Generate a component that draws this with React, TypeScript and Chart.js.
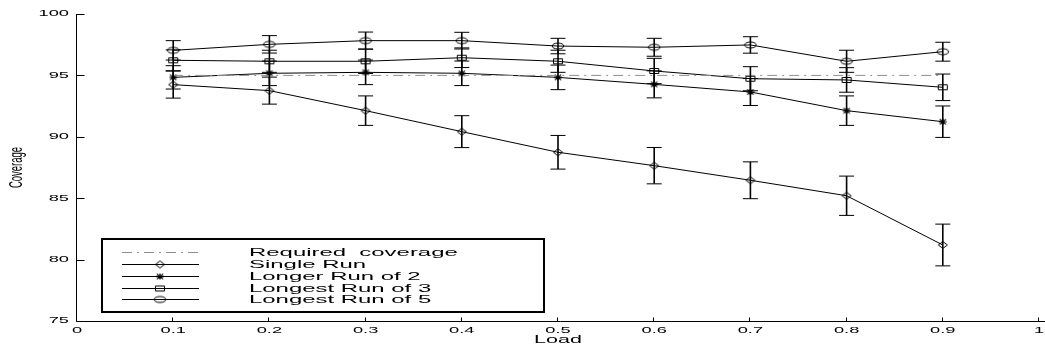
import { useEffect, useRef } from 'react';
import { Chart, registerables } from 'chart.js';

Chart.register(...registerables);

// ---- data ----
const loads = [0.1, 0.2, 0.3, 0.4, 0.5, 0.6, 0.7, 0.8, 0.9];
const requiredLoads = [0.1, 0.9];
const requiredCoverage = [95, 95];
const singleRun = [94.25, 93.76, 92.13, 90.42, 88.74, 87.65, 86.46, 85.2, 81.19];
const singleRunErr = [1.1, 1.1, 1.2, 1.3, 1.37, 1.48, 1.5, 1.6, 1.7];
const longerRun2 = [94.84, 95.17, 95.25, 95.17, 94.84, 94.27, 93.65, 92.13, 91.23];
const longerRun2Err = [0.95, 1.0, 1.0, 1.0, 1.0, 1.1, 1.1, 1.2, 1.28];
const longestRun3 = [96.23, 96.15, 96.15, 96.44, 96.15, 95.36, 94.73, 94.63, 94.03];
const longestRun3Err = [0.85, 0.9, 1.0, 0.8, 0.9, 1.03, 0.98, 1.0, 1.08];
const longestRun5 = [97.04, 97.53, 97.83, 97.83, 97.39, 97.29, 97.48, 96.15, 96.93];
const longestRun5Err = [0.79, 0.71, 0.7, 0.68, 0.63, 0.73, 0.67, 0.9, 0.77];
const seriesLabels = [
  'Required  coverage',
  'Single Run',
  'Longer Run of 2',
  'Longest Run of 3',
  'Longest Run of 5',
];
const xTickLabels = ['0', '0.1', '0.2', '0.3', '0.4', '0.5', '0.6', '0.7', '0.8', '0.9', '1'];
const yTickLabels = ['75', '80', '85', '90', '95', '100'];
const xAxisTitle = 'Load';
const yAxisTitle = 'Coverage';

// ---- styling helpers ----
const FONT = '"Liberation Sans", Arial, Helvetica, sans-serif';
const DASH = [10, 5, 2, 5];
const REQ_COLOR = '#8e8e8e';

function makeMarker(kind: string): HTMLCanvasElement {
  const c = document.createElement('canvas');
  c.width = 14;
  c.height = 10;
  const g = c.getContext('2d') as CanvasRenderingContext2D;
  g.strokeStyle = '#000';
  g.lineWidth = 1;
  const cx = 7;
  const cy = 5;
  g.beginPath();
  if (kind === 'diamond') {
    g.moveTo(cx - 4.5, cy);
    g.lineTo(cx, cy - 3.5);
    g.lineTo(cx + 4.5, cy);
    g.lineTo(cx, cy + 3.5);
    g.closePath();
  } else if (kind === 'square') {
    g.rect(2.5, 2.5, 9, 5);
  } else if (kind === 'circle') {
    g.ellipse(cx, cy, 5.8, 3, 0, 0, Math.PI * 2);
  } else if (kind === 'star') {
    g.lineWidth = 1.2;
    g.moveTo(3, cy);
    g.lineTo(11, cy);
    g.moveTo(cx, 2);
    g.lineTo(cx, 8);
    g.moveTo(3.8, 2.4);
    g.lineTo(10.2, 7.6);
    g.moveTo(3.8, 7.6);
    g.lineTo(10.2, 2.4);
  }
  g.stroke();
  return c;
}

function stretchedText(
  ctx: CanvasRenderingContext2D,
  text: string,
  x: number,
  y: number,
  size: number,
  sx: number,
  align: CanvasTextAlign,
) {
  ctx.save();
  ctx.translate(x, y);
  ctx.scale(sx, 1);
  ctx.font = `${size}px ${FONT}`;
  ctx.textAlign = align;
  ctx.textBaseline = 'middle';
  ctx.fillStyle = '#000';
  ctx.fillText(text, 0, 0);
  ctx.restore();
}

export default function App() {
  const ref = useRef<HTMLCanvasElement | null>(null);

  useEffect(() => {
    const canvas = ref.current;
    if (!canvas) return;

    const markers = {
      diamond: makeMarker('diamond'),
      star: makeMarker('star'),
      square: makeMarker('square'),
      circle: makeMarker('circle'),
    };

    const toXY = (ys: number[], xs: number[]) => xs.map((x, i) => ({ x, y: ys[i] }));

    const series = [
      { label: seriesLabels[1], values: singleRun, err: singleRunErr, marker: markers.diamond },
      { label: seriesLabels[2], values: longerRun2, err: longerRun2Err, marker: markers.star },
      { label: seriesLabels[3], values: longestRun3, err: longestRun3Err, marker: markers.square },
      { label: seriesLabels[4], values: longestRun5, err: longestRun5Err, marker: markers.circle },
    ];

    const datasets: any[] = [
      {
        label: seriesLabels[0],
        data: toXY(requiredCoverage, requiredLoads),
        borderColor: REQ_COLOR,
        borderWidth: 1,
        borderDash: DASH,
        pointRadius: 0,
        fill: false,
      },
      ...series.map((s) => ({
        label: s.label,
        data: toXY(s.values, loads),
        errorBars: s.err,
        borderColor: '#000',
        borderWidth: 1,
        pointStyle: s.marker,
        pointRadius: 5,
        pointBorderColor: '#000',
        pointBackgroundColor: 'rgba(0,0,0,0)',
        fill: false,
        tension: 0,
      })),
    ];

    const matlabPlugin = {
      id: 'matlabLook',
      beforeDatasetsDraw(chart: any) {
        const ctx: CanvasRenderingContext2D = chart.ctx;
        const ca = chart.chartArea;
        const xs = chart.scales.x;
        const ys = chart.scales.y;
        ctx.save();
        ctx.strokeStyle = '#000';
        ctx.lineWidth = 1;
        const left = Math.round(ca.left) - 0.5;
        const bottom = Math.round(ca.bottom) + 0.5;
        ctx.beginPath();
        ctx.moveTo(left, ca.top);
        ctx.lineTo(left, bottom);
        ctx.lineTo(chart.width, bottom);
        ctx.stroke();
        // y ticks (inward)
        ctx.beginPath();
        yTickLabels.forEach((t) => {
          const py = Math.round(ys.getPixelForValue(Number(t))) + 0.5;
          ctx.moveTo(left, py);
          ctx.lineTo(left + 8, py);
        });
        // x ticks (inward)
        xTickLabels.forEach((t) => {
          const px = Math.round(xs.getPixelForValue(Number(t))) - 0.5;
          ctx.moveTo(px, bottom);
          ctx.lineTo(px, bottom - 4);
        });
        ctx.stroke();
        ctx.restore();

        yTickLabels.forEach((t) => {
          stretchedText(ctx, t, ca.left - 8, ys.getPixelForValue(Number(t)), 8.5, 2.15, 'right');
        });
        xTickLabels.forEach((t) => {
          stretchedText(ctx, t, xs.getPixelForValue(Number(t)), ca.bottom + 9.5, 8.5, 2.15, 'center');
        });
        stretchedText(ctx, xAxisTitle, xs.getPixelForValue(0.5), ca.bottom + 19.5, 10.5, 2.05, 'center');

        ctx.save();
        ctx.translate(17, (ca.top + ca.bottom) / 2);
        ctx.rotate(-Math.PI / 2);
        ctx.scale(1, 1.9);
        ctx.font = `9.5px ${FONT}`;
        ctx.textAlign = 'center';
        ctx.textBaseline = 'middle';
        ctx.fillStyle = '#000';
        ctx.fillText(yAxisTitle, 0, 0);
        ctx.restore();
      },
      afterDatasetsDraw(chart: any) {
        const ctx: CanvasRenderingContext2D = chart.ctx;
        const xs = chart.scales.x;
        const ys = chart.scales.y;
        ctx.save();
        ctx.strokeStyle = '#000';
        chart.data.datasets.forEach((ds: any) => {
          if (!ds.errorBars) return;
          ds.data.forEach((p: any, i: number) => {
            const e = ds.errorBars[i];
            const px = xs.getPixelForValue(p.x);
            const pt = ys.getPixelForValue(p.y + e);
            const pb = ys.getPixelForValue(p.y - e);
            ctx.lineWidth = 1.6;
            ctx.beginPath();
            ctx.moveTo(px, pt);
            ctx.lineTo(px, pb);
            ctx.stroke();
            ctx.lineWidth = 1;
            ctx.beginPath();
            ctx.moveTo(px - 7.5, pt);
            ctx.lineTo(px + 7.5, pt);
            ctx.moveTo(px - 7.5, pb);
            ctx.lineTo(px + 7.5, pb);
            ctx.stroke();
          });
        });
        ctx.restore();

        // legend box
        const bx = 102;
        const by = 239;
        const bw = 442;
        const bh = 73;
        ctx.save();
        ctx.fillStyle = '#fff';
        ctx.fillRect(bx, by, bw, bh);
        ctx.strokeStyle = '#000';
        ctx.lineWidth = 2;
        ctx.strokeRect(bx, by, bw, bh);
        const rowY0 = 252;
        const rowStep = 11.85;
        seriesLabels.forEach((lab, i) => {
          const y = Math.round(rowY0 + i * rowStep) + 0.5;
          ctx.save();
          ctx.lineWidth = 1;
          if (i === 0) {
            ctx.strokeStyle = REQ_COLOR;
            ctx.setLineDash(DASH);
          } else {
            ctx.strokeStyle = '#000';
          }
          ctx.beginPath();
          ctx.moveTo(122, y);
          ctx.lineTo(199, y);
          ctx.stroke();
          ctx.restore();
          if (i > 0) {
            const m = series[i - 1].marker;
            ctx.drawImage(m, 160 - m.width / 2, y - 0.5 - m.height / 2 + 0.5);
          }
          stretchedText(ctx, lab, 249, y, 11.5, 2.08, 'left');
        });
        ctx.restore();
      },
    };

    const chart = new Chart(canvas, {
      type: 'line',
      data: { datasets },
      options: {
        animation: false,
        responsive: false,
        devicePixelRatio: 1,
        events: [],
        layout: { padding: { left: 77, right: 1, top: 14, bottom: 31 } },
        plugins: {
          legend: { display: false },
          tooltip: { enabled: false },
          title: { display: false },
        },
        scales: {
          x: { type: 'linear', min: 0, max: 1, display: false },
          y: { type: 'linear', min: 75, max: 100, display: false },
        },
      },
      plugins: [matlabPlugin],
    } as any);

    return () => chart.destroy();
  }, []);

  return (
    <div
      style={{
        position: 'fixed',
        left: 0,
        top: 0,
        width: 1045,
        height: 352,
        background: '#fff',
      }}
    >
      <canvas ref={ref} width={1045} height={352} style={{ width: 1045, height: 352, display: 'block' }} />
    </div>
  );
}
